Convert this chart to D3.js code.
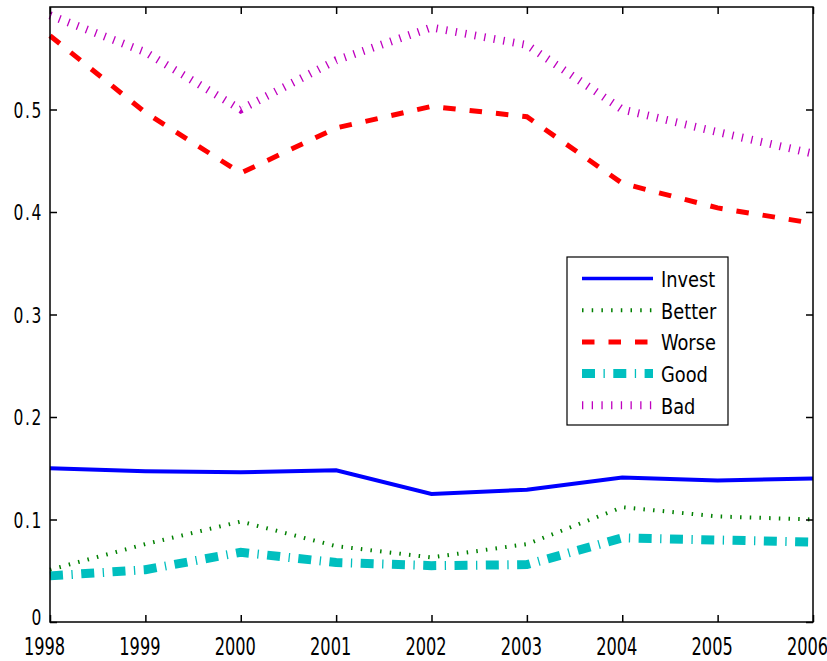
<!DOCTYPE html>
<html>
<head>
<meta charset="utf-8">
<script src="https://cdn.jsdelivr.net/npm/d3@7"></script>
<style>
body { margin: 0; background: #fff; }
svg text { font-family: "DejaVu Sans Condensed", "DejaVu Sans", sans-serif; fill: #000; }
</style>
</head>
<body>
<svg id="chart" width="827" height="661"></svg>
<script>
"use strict";

// data
var years  = [1998, 1999, 2000, 2001, 2002, 2003, 2004, 2005, 2006];
var invest = [0.150, 0.147, 0.146, 0.148, 0.125, 0.129, 0.141, 0.138, 0.140];
var better = [0.051, 0.076, 0.098, 0.074, 0.063, 0.076, 0.112, 0.103, 0.100];
var worse  = [0.572, 0.497, 0.438, 0.482, 0.503, 0.493, 0.428, 0.404, 0.389];
var good   = [0.045, 0.051, 0.068, 0.058, 0.055, 0.056, 0.082, 0.080, 0.078];
var bad    = [0.592, 0.556, 0.500, 0.548, 0.580, 0.563, 0.500, 0.478, 0.457];
var yTicks = [0, 0.1, 0.2, 0.3, 0.4, 0.5];

var series = [
	{name: "Invest", values: invest, color: "#0000ff", width: 4, dash: null},
	{name: "Better", values: better, color: "#008000", width: 4, dash: "1.5,8.2"},
	{name: "Worse",  values: worse,  color: "#ff0000", width: 5, dash: "12.5,14"},
	{name: "Good",   values: good,   color: "#00bfbf", width: 9, dash: "13,8.5,1.3,8.5"},
	{name: "Bad",    values: bad,    color: "#bf00bf", width: 8, dash: "1.3,8.4"}
];

var svg = d3.select("#chart");
var L = 50, T = 7, R = 813, B = 622;

var x = d3.scaleLinear().domain([1998, 2006]).range([L, R]);
var y = d3.scaleLinear().domain([0, 0.6]).range([B, T]);

// lines
var line = d3.line()
	.x((d, i) => x(years[i]))
	.y(d => y(d));

svg.append("g")
   .selectAll("path")
   .data(series)
   .enter()
   .append("path")
   .attr("d", d => line(d.values))
   .attr("fill", "none")
   .attr("stroke", d => d.color)
   .attr("stroke-width", d => d.width)
   .attr("stroke-dasharray", d => d.dash);

// axes, ticks pointing inward
var fmtY = d => d === 0 ? "0" : d3.format(".1f")(d);

var xBottom = svg.append("g")
	.attr("transform", "translate(0," + B + ")")
	.call(d3.axisBottom(x).tickValues(years).tickFormat(d3.format("d")).tickSizeInner(-7).tickSizeOuter(0));
xBottom.selectAll("text")
	.attr("y", 15)
	.attr("dy", "0.73em")
	.attr("font-size", 25)
	.attr("transform", "translate(-6,0) scale(0.72,1)");

svg.append("g")
   .attr("transform", "translate(0," + T + ")")
   .call(d3.axisTop(x).tickValues(years).tickSizeInner(-7).tickSizeOuter(0).tickFormat(""));

var yLeft = svg.append("g")
	.attr("transform", "translate(" + L + ",0)")
	.call(d3.axisLeft(y).tickValues(yTicks).tickFormat(fmtY).tickSizeInner(-7).tickSizeOuter(0));
yLeft.selectAll("text")
	.attr("x", -8.5)
	.attr("dy", d => d === 0 ? "0.1em" : "0.38em")
	.attr("font-size", 21)
	.attr("letter-spacing", 2)
	.attr("transform", "scale(0.82,1)");

svg.append("g")
   .attr("transform", "translate(" + R + ",0)")
   .call(d3.axisRight(y).tickValues(yTicks).tickSizeInner(-7).tickSizeOuter(0).tickFormat(""));

svg.selectAll(".domain").remove();
svg.selectAll(".tick line").attr("stroke", "#000").attr("stroke-width", 1.5);

svg.append("rect")
   .attr("x", L).attr("y", T)
   .attr("width", R - L).attr("height", B - T)
   .attr("fill", "none")
   .attr("stroke", "#000")
   .attr("stroke-width", 1.5);

// legend
var legend = svg.append("g").attr("transform", "translate(567,257)");
legend.append("rect")
	.attr("width", 161).attr("height", 168)
	.attr("fill", "#fff")
	.attr("stroke", "#000")
	.attr("stroke-width", 1.2);

var item = legend.selectAll(".item")
	.data(series)
	.enter()
	.append("g")
	.attr("transform", (d, i) => "translate(0," + (21.5 + i * 31.7) + ")");
item.append("line")
	.attr("x1", 15).attr("x2", 86)
	.attr("stroke", d => d.color)
	.attr("stroke-width", d => d.name == "Invest" ? 3.5 : d.width)
	.attr("stroke-dasharray", d => d.dash);
item.append("text")
	.attr("x", 94 / 0.9)
	.attr("dy", "0.38em")
	.attr("font-size", 22)
	.attr("transform", "scale(0.9,1)")
	.text(d => d.name);
</script>
</body>
</html>
